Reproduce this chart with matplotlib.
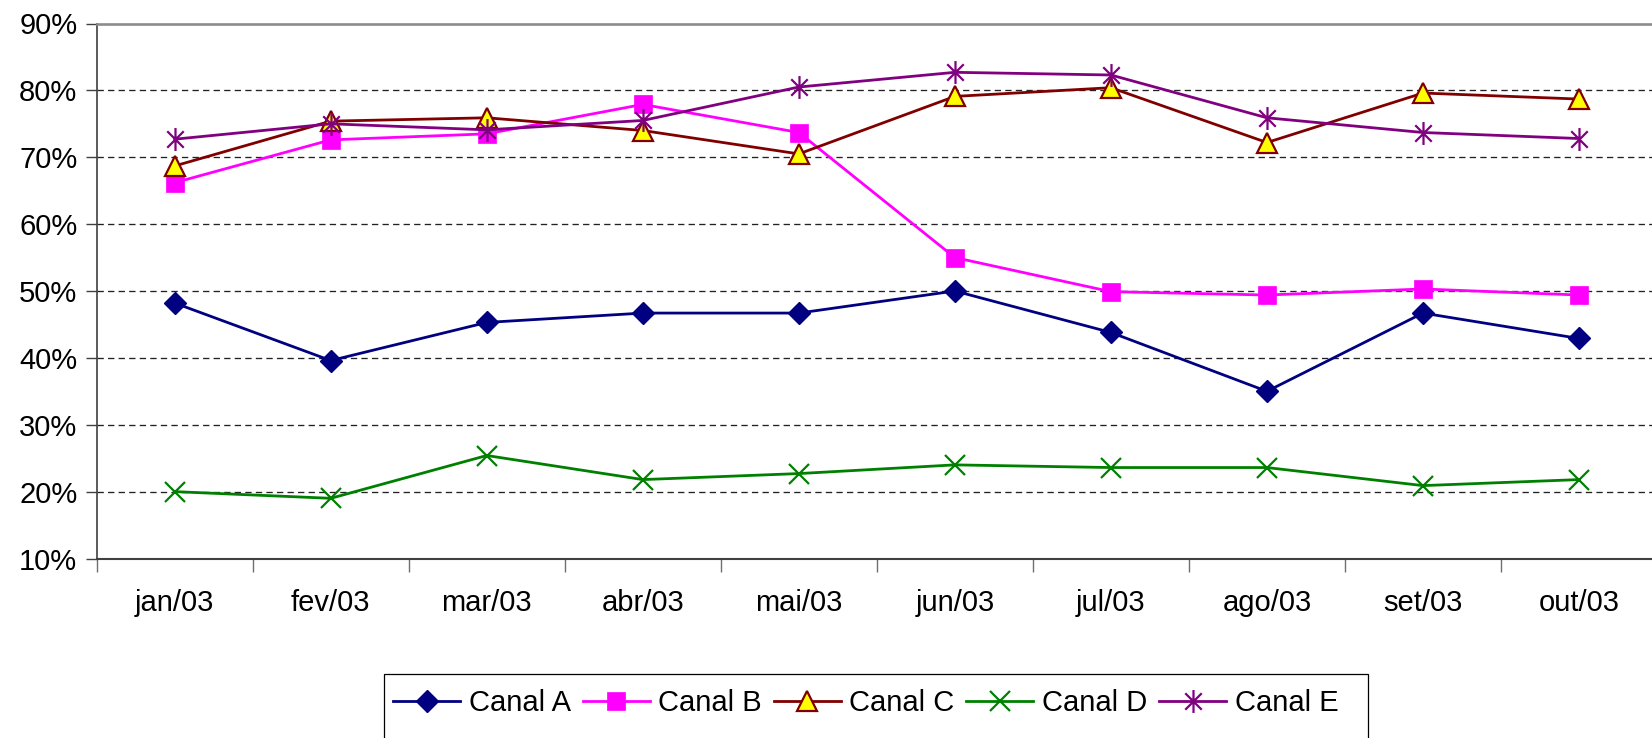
import matplotlib
matplotlib.use("Agg")
import matplotlib.pyplot as plt
from matplotlib.path import Path
from matplotlib.patches import Rectangle
from matplotlib.ticker import FixedLocator, FuncFormatter

months = ["jan/03", "fev/03", "mar/03", "abr/03", "mai/03",
          "jun/03", "jul/03", "ago/03", "set/03", "out/03"]
canal_a = [48.2, 39.6, 45.3, 46.7, 46.7, 50.0, 43.8, 35.0, 46.7, 42.9]
canal_b = [66.2, 72.6, 73.5, 77.9, 73.7, 55.0, 49.9, 49.4, 50.3, 49.4]
canal_c = [68.7, 75.4, 75.9, 74.0, 70.5, 79.1, 80.4, 72.2, 79.6, 78.7]
canal_d = [20.0, 19.0, 25.4, 21.8, 22.7, 24.0, 23.6, 23.6, 20.9, 21.8]
canal_e = [72.7, 75.0, 74.1, 75.5, 80.5, 82.7, 82.3, 75.9, 73.7, 72.8]
series_names = ["Canal A", "Canal B", "Canal C", "Canal D", "Canal E"]
y_ticks = [10, 20, 30, 40, 50, 60, 70, 80, 90]

plt.rcParams['font.family'] = ['Liberation Sans', 'DejaVu Sans']

W, H = 1652, 738
fig = plt.figure(figsize=(W / 100, H / 100), dpi=100)
left_px, right_px, top_px, bottom_px = 96.7, 1657, 23.5, 558.5
ax = fig.add_axes([left_px / W, 1 - bottom_px / H,
                   (right_px - left_px) / W, (bottom_px - top_px) / H])

x = list(range(len(months)))

# grid lines
for v in y_ticks[1:-1]:
    ax.axhline(v, color='#222222', lw=0.95, dashes=(4.8, 3.2), zorder=1)

asterisk = Path([(0, -1), (0, 1), (-0.72, -0.72), (0.72, 0.72),
                 (-0.72, 0.72), (0.72, -0.72)],
                [Path.MOVETO, Path.LINETO, Path.MOVETO, Path.LINETO,
                 Path.MOVETO, Path.LINETO])

lw = 2.0
ax.plot(x, canal_a, color='#000080', lw=lw, marker='D', ms=11.5,
        mfc='#000080', mec='#000080', mew=1, label=series_names[0], zorder=3)
ax.plot(x, canal_b, color='#FF00FF', lw=lw, marker='s', ms=12.5,
        mfc='#FF00FF', mec='#FF00FF', mew=0.5, label=series_names[1], zorder=3)
ax.plot(x, canal_c, color='#800000', lw=lw, marker='^', ms=15,
        mfc='#FFFF00', mec='#800000', mew=1.6, label=series_names[2], zorder=3)
ax.plot(x, canal_d, color='#008000', lw=lw, marker='x', ms=14.5,
        mec='#008000', mew=1.6, label=series_names[3], zorder=3)
ax.plot(x, canal_e, color='#800080', lw=lw, marker=asterisk, ms=16.5,
        mfc='#800080', mec='#800080', mew=1.6, label=series_names[4], zorder=3)

ax.set_xlim(-0.5, len(months) - 0.5)
ax.set_ylim(10, 90)

ax.yaxis.set_major_locator(FixedLocator(y_ticks))
ax.yaxis.set_major_formatter(FuncFormatter(lambda v, p: f"{v:.0f}%"))
ax.tick_params(axis='y', which='major', direction='out', length=8,
               width=1, color='#404040', labelsize=21, pad=6)

ax.xaxis.set_major_locator(FixedLocator(x))
ax.set_xticklabels(months)
ax.xaxis.set_minor_locator(FixedLocator([i - 0.5 for i in range(len(months) + 1)]))
ax.tick_params(axis='x', which='major', length=0, labelsize=21, pad=22)
ax.tick_params(axis='x', which='minor', direction='out', length=9,
               width=1, color='#707070')

ax.spines['right'].set_visible(False)
ax.spines['top'].set_color('#8c8c8c')
ax.spines['top'].set_linewidth(1.9)
ax.spines['left'].set_color('#404040')
ax.spines['left'].set_linewidth(1.2)
ax.spines['bottom'].set_color('#404040')
ax.spines['bottom'].set_linewidth(1.5)

# legend
handles, labels = ax.get_legend_handles_labels()
leg = fig.legend(handles, labels, loc='center left', ncol=5,
                 bbox_to_anchor=(393 / W, 1 - 703 / H), frameon=False,
                 fontsize=21, handlelength=2.3, handletextpad=0.3,
                 columnspacing=0.4, borderaxespad=0, borderpad=0)
fig.patches.append(Rectangle((384 / W, -0.05), (1368 - 384) / W,
                             (1 - 674 / H) + 0.05, transform=fig.transFigure,
                             fill=False, edgecolor='black', lw=0.9))

fig.savefig("out.png", dpi=100)
